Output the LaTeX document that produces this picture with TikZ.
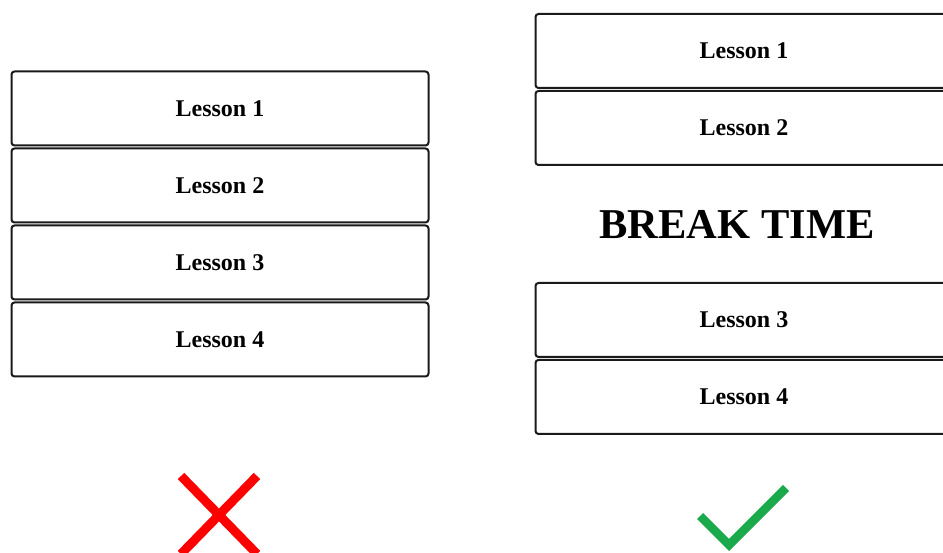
\documentclass[tikz,border=0pt]{standalone}
\usepackage{fontspec}
\setmainfont{Liberation Serif}
\usepackage{xcolor}
\definecolor{cLine}{HTML}{1A1A1A}
\definecolor{cBad}{HTML}{FF0000}
\definecolor{cOK}{HTML}{1BAA4B}
\usepackage{tikz}
\usetikzlibrary{positioning}
\tikzset{
  node-lesson/.style={draw=cLine,line width=2pt,rounded corners=3pt,
    minimum height=74pt,minimum width=417pt,align=center,inner sep=0pt,
    font=\fontsize{24}{28}\selectfont\bfseries},
  node-break/.style={inner sep=0pt,font=\fontsize{42.5}{48}\selectfont\bfseries},
  mark-bad/.style={draw=cBad,line width=9pt,line cap=butt},
  mark-ok/.style={draw=cOK,line width=8.5pt,line cap=butt,line join=miter},
}
\begin{document}
\begin{tikzpicture}[x=1pt,y=1pt,node distance=1pt]
  \clip (0,0) rectangle (943,553);
  % linke Spalte: vier Stunden ohne Pause
  \node[node-lesson] (l1) at (220,444.5) {Lesson 1};
  \node[node-lesson,below=of l1] (l2) {Lesson 2};
  \node[node-lesson,below=of l2] (l3) {Lesson 3};
  \node[node-lesson,below=of l3] (l4) {Lesson 4};
  % rechte Spalte: Pause zwischen Stunde 2 und 3
  \node[node-lesson] (r1) at (744,502) {Lesson 1};
  \node[node-lesson,below=of r1] (r2) {Lesson 2};
  \node[node-break] (brk) at (737,328.5) {BREAK TIME};
  \node[node-lesson] (r3) at (744,233) {Lesson 3};
  \node[node-lesson,below=of r3] (r4) {Lesson 4};
  % Markierungen
  \draw[mark-bad] (181,77) -- (257,-1);
  \draw[mark-bad] (257,77) -- (181,-1);
  \draw[mark-ok] (700,37) -- (729,8) -- (786,65);
\end{tikzpicture}
\end{document}
